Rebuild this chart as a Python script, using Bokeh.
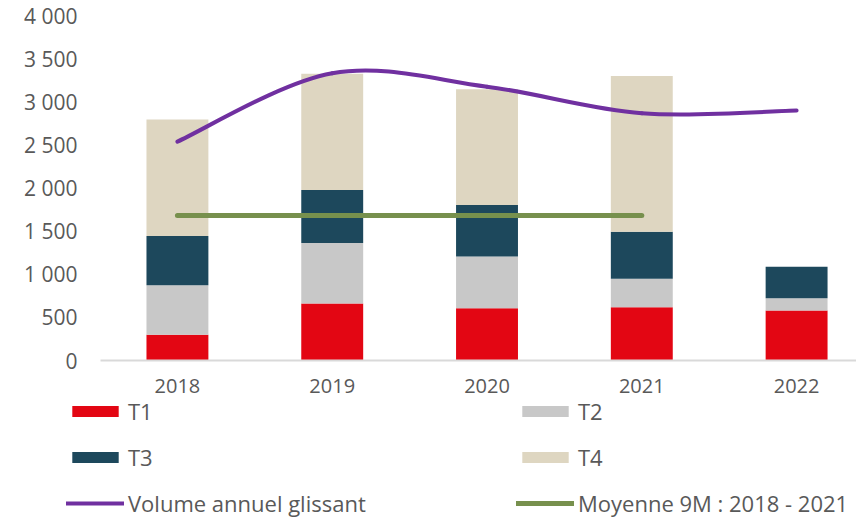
from bokeh.plotting import figure
from bokeh.models import Range1d, FixedTicker, Legend, LegendItem, ColumnDataSource
from bokeh.embed import file_html
from bokeh.resources import INLINE

# ---- data ----
years = ["2018", "2019", "2020", "2021", "2022"]
t1 = [300, 661, 607, 618, 580]
t2 = [572, 700, 599, 331, 143]
t3 = [572, 615, 596, 545, 364]
t4 = [1349, 1350, 1342, 1804, 0]
rolling = [2538, 3330, 3175, 2867, 2898]
avg_9m = 1680
avg_span = ["2018", "2021"]
y_ticks = [0, 500, 1000, 1500, 2000, 2500, 3000, 3500, 4000]
y_labels = ["0", "500", "1 000", "1 500", "2 000", "2 500", "3 000", "3 500", "4 000"]
series_names = ["T1", "T2", "T3", "T4"]
colors = ["#E30613", "#C8C8C8", "#1D485C", "#DED6C1"]
line_names = ["Volume annuel glissant", "Moyenne 9M : 2018 - 2021"]
line_colors = ["#7030A0", "#77904D"]

FONT = "Open Sans"
TXT = "#595959"

# layout geometry (pixels)
W, H = 856, 518
PLOT_L, PLOT_T, PLOT_B = 100, 15, 360     # plot area inside the canvas
X_LO, X_HI = -0.497, 4.387                  # category axis span drawn from PLOT_L to W
Y_TOP = 4000
px_x = (W - PLOT_L) / (X_HI - X_LO)
px_y = (PLOT_B - PLOT_T) / Y_TOP

xs = list(range(len(years)))
src = ColumnDataSource(dict(x=xs, T1=t1, T2=t2, T3=t3, T4=t4))

p = figure(width=W, height=H, output_backend="svg", toolbar_location=None,
           x_range=Range1d(X_LO - PLOT_L / px_x, X_HI),
           y_range=Range1d(-(H - PLOT_B) / px_y, Y_TOP + PLOT_T / px_y))
p.min_border_left = p.min_border_right = p.min_border_top = p.min_border_bottom = 0
p.outline_line_color = None
p.grid.visible = False

bars = p.vbar_stack(series_names, x="x", width=0.4, color=colors, source=src, line_color=None)

# smooth rolling line (cubic bezier segments through the data points)
n = len(rolling)
def pt(i):
    i = max(0, min(n - 1, i))
    return xs[i], rolling[i]
bx0, by0, bx1, by1, cx0, cy0, cx1, cy1 = [], [], [], [], [], [], [], []
for i in range(n - 1):
    xa, ya = pt(i); xb, yb = pt(i + 1)
    xp, yp = pt(i - 1); xn, yn = pt(i + 2)
    bx0.append(xa); by0.append(ya); bx1.append(xb); by1.append(yb)
    cx0.append(xa + (xb - xp) / 6); cy0.append(ya + (yb - yp) / 6)
    cx1.append(xb - (xn - xa) / 6); cy1.append(yb - (yn - ya) / 6)
curve = p.bezier(x0=bx0, y0=by0, x1=bx1, y1=by1, cx0=cx0, cy0=cy0, cx1=cx1, cy1=cy1,
                 line_color=line_colors[0], line_width=4, line_cap="round")

avg_x = [years.index(y) for y in avg_span]
avg = p.line(avg_x, [avg_9m, avg_9m], line_color=line_colors[1], line_width=5, line_cap="round")

# axes, pinned inside the canvas
p.yaxis.fixed_location = X_LO
p.yaxis.ticker = FixedTicker(ticks=y_ticks)
p.yaxis.major_label_overrides = {t: l for t, l in zip(y_ticks, y_labels)}
p.yaxis.axis_line_color = None
p.yaxis.major_tick_line_color = None
p.yaxis.minor_tick_line_color = None
p.yaxis.major_label_standoff = 17
p.xaxis.fixed_location = 0
p.xaxis.bounds = (X_LO, X_HI)
p.xaxis.ticker = FixedTicker(ticks=xs)
p.xaxis.major_label_overrides = {i: y for i, y in zip(xs, years)}
p.xaxis.axis_line_color = "#D9D9D9"
p.xaxis.axis_line_width = 2
p.xaxis.major_tick_line_color = None
p.xaxis.minor_tick_line_color = None
p.xaxis.major_label_standoff = 12
for ax in (p.xaxis, p.yaxis):
    ax.major_label_text_font = FONT
    ax.major_label_text_color = TXT
p.xaxis.major_label_text_font_size = "20px"
p.yaxis.major_label_text_font_size = "21px"

def make_legend(items, loc):
    return Legend(items=items, location=loc,
                  glyph_width=58, glyph_height=14, label_standoff=4,
                  spacing=16, padding=0, margin=0, border_line_color=None,
                  background_fill_alpha=0,
                  label_text_font=FONT, label_text_font_size="22px", label_text_color=TXT)

leg_a = make_legend([LegendItem(label=series_names[0], renderers=[bars[0]]),
                     LegendItem(label=series_names[2], renderers=[bars[2]]),
                     LegendItem(label=line_names[0], renderers=[curve])], (66, 0))
leg_b = make_legend([LegendItem(label=series_names[1], renderers=[bars[1]]),
                     LegendItem(label=series_names[3], renderers=[bars[3]]),
                     LegendItem(label=line_names[1], renderers=[avg])], (516, 0))
p.add_layout(leg_a)
p.add_layout(leg_b)

open("out.html", "w").write(file_html(p, INLINE))
